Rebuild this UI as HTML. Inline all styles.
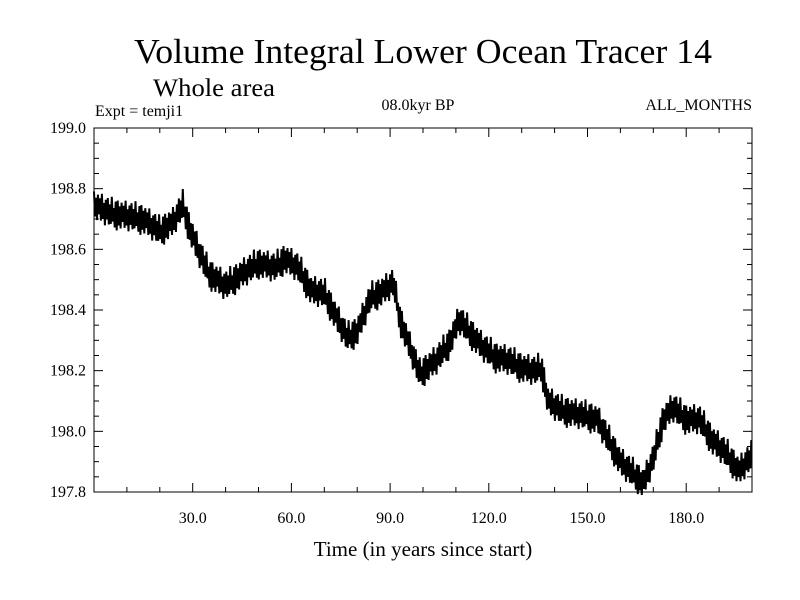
<!DOCTYPE html>
<html><head><meta charset="utf-8"><style>
body{margin:0;background:#fff}
svg{display:block;font-family:"Liberation Serif",serif}
</style></head><body>
<svg id="chart" width="800" height="600">
<rect width="800" height="600" fill="#fff"/>
<text x="423" y="63" font-size="35" text-anchor="middle" textLength="578" lengthAdjust="spacingAndGlyphs">Volume Integral Lower Ocean Tracer 14</text>
<text x="153" y="96" font-size="25" textLength="122" lengthAdjust="spacingAndGlyphs">Whole area</text>
<text x="95" y="116" font-size="16">Expt = temji1</text>
<text x="418" y="110" font-size="16" text-anchor="middle">08.0kyr BP</text>
<text x="752" y="110" font-size="16" text-anchor="end">ALL_MONTHS</text>
<text x="423" y="556" font-size="21" text-anchor="middle">Time (in years since start)</text>
<g id="axes"></g>
<g id="series"></g>
<rect x="94" y="128" width="658" height="364" fill="none" stroke="#000" stroke-width="1"/>
</svg>
<script>
const years = [0,5,10,15,20,24,27,29,32,35,40,45,50,55,58,62,66,70,74,77,80,84,88,91,93,96,99,104,108,111,114,118,122,126,130,134,136,138,142,146,150,153,156,160,164,167,170,173,176,180,184,188,192,196,200];
const means = [198.746,198.72,198.71,198.70,198.66,198.69,198.745,198.67,198.59,198.52,198.48,198.52,198.555,198.54,198.57,198.54,198.465,198.455,198.37,198.31,198.33,198.44,198.465,198.49,198.37,198.28,198.19,198.235,198.29,198.37,198.33,198.28,198.245,198.235,198.21,198.2,198.21,198.10,198.07,198.06,198.05,198.04,197.98,197.90,197.86,197.83,197.91,198.04,198.08,198.04,198.04,197.97,197.93,197.87,197.92];
const noiseAmp = 0.045;
const noisePattern = [1,-0.8,0.6,-1,0.9,-0.5,0.7,-0.9,1.1,-0.7,0.5,-1.1,0.8,-0.6,1,-0.9,0.6,-0.8,1.2,-0.6,0.4,-1,0.9,-1.2];
const yTicks = [197.8,198.0,198.2,198.4,198.6,198.8,199.0];
const xTicks = [30,60,90,120,150,180];

const X0=94,X1=752,Y0=128,Y1=492;
const xs = v => X0 + (v-0)/(200-0)*(X1-X0);
const ys = v => Y1 - (v-197.8)/(199.0-197.8)*(Y1-Y0);
const NS="http://www.w3.org/2000/svg";
const axes=document.getElementById('axes');
function mk(tag,attrs,parent){const e=document.createElementNS(NS,tag);for(const k in attrs)e.setAttribute(k,attrs[k]);parent.appendChild(e);return e;}

for(let i=0;i<=24;i++){
  const v=197.8+i*0.05, y=ys(v), major=i%4===0, len=major?9:5;
  const t1=mk('line',{x1:X0,x2:X0+len,y1:y,y2:y,stroke:'#000'},axes);
  
  
  const t2=mk('line',{x1:X1,x2:X1-len,y1:y,y2:y,stroke:'#000'},axes);
  
  
}
yTicks.forEach(v=>{
  const t=mk('text',{x:86,y:ys(v)+5,'font-size':16,'text-anchor':'end'},axes);
  t.textContent=v.toFixed(1);
  
  
});
for(let v=10;v<200;v+=10){
  const x=xs(v), major=v%30===0, len=major?9:5;
  const t1=mk('line',{x1:x,x2:x,y1:Y1,y2:Y1-len,stroke:'#000'},axes);
  
  
  const t2=mk('line',{x1:x,x2:x,y1:Y0,y2:Y0+len,stroke:'#000'},axes);
  
  
}
xTicks.forEach(v=>{
  const t=mk('text',{x:xs(v),y:523,'font-size':16,'text-anchor':'middle'},axes);
  t.textContent=v.toFixed(1);
  
  
});

function meanAt(t){
  for(let i=0;i<years.length-1;i++){
    if(t<=years[i+1]){const f=(t-years[i])/(years[i+1]-years[i]);return means[i]+f*(means[i+1]-means[i]);}
  }
  return means[means.length-1];
}
let pts=[];
let k=0;
for(let t=0;t<=200;t+=0.3,k++){
  const v=meanAt(t)+noiseAmp*noisePattern[k%noisePattern.length];
  pts.push(xs(t).toFixed(1)+','+ys(v).toFixed(1));
}
const line=mk('polyline',{points:pts.join(' '),fill:'none',stroke:'#000','stroke-width':2,'stroke-linejoin':'miter'},document.getElementById('series'));


</script>
</body></html>
